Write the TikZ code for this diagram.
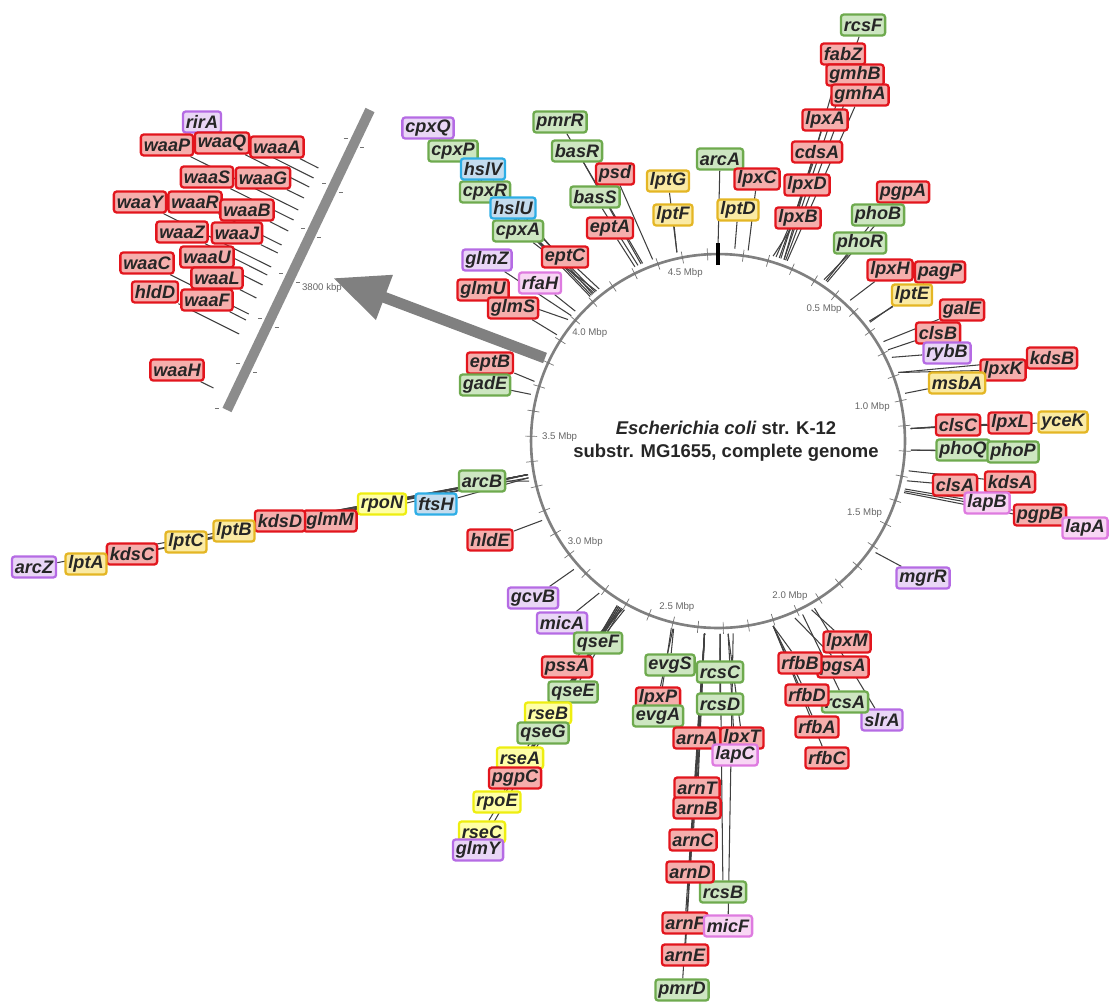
\documentclass[tikz,border=0pt]{standalone}
\usepackage{fontspec}
\setmainfont{Liberation Sans}
\usetikzlibrary{arrows.meta,backgrounds}

\definecolor{bdred}{HTML}{E2151D}
\definecolor{bgred}{HTML}{F5AEAC}
\definecolor{bdgreen}{HTML}{6EAA4E}
\definecolor{bggreen}{HTML}{CDE6C1}
\definecolor{bdpurple}{HTML}{B56BE4}
\definecolor{bgpurple}{HTML}{E9D6F6}
\definecolor{bdlpt}{HTML}{E4B624}
\definecolor{bglpt}{HTML}{FAEAA4}
\definecolor{bdsigma}{HTML}{EEEE10}
\definecolor{bgsigma}{HTML}{FFFFA6}
\definecolor{bdcyan}{HTML}{2EAEE6}
\definecolor{bgcyan}{HTML}{C4DCEE}
\definecolor{bdpink}{HTML}{DE7BE0}
\definecolor{bgpink}{HTML}{F8D6F4}

\tikzset{
  gene/.style={draw, rounded corners=1.6pt, line width=1.3pt, inner xsep=1.7pt,
    inner ysep=0.6pt, minimum height=0.42cm, text=black!85,
    font=\bfseries\itshape\fontsize{10.3}{12}\selectfont},
  redgene/.style={gene, draw=bdred, fill=bgred},
  greengene/.style={gene, draw=bdgreen, fill=bggreen},
  purplegene/.style={gene, draw=bdpurple, fill=bgpurple},
  lptgene/.style={gene, draw=bdlpt, fill=bglpt},
  sigmagene/.style={gene, draw=bdsigma, fill=bgsigma},
  cyangene/.style={gene, draw=bdcyan, fill=bgcyan},
  pinkgene/.style={gene, draw=bdpink, fill=bgpink},
  genelink/.style={draw=black!75, line width=0.6pt},
  ring/.style={draw=black!50, line width=1.5pt},
  ringtick/.style={draw=black!55, line width=0.4pt},
  mbp/.style={font=\fontsize{5.5}{6}\selectfont, text=black!60, inner sep=1pt},
  zoombar/.style={draw=black!45, line width=0.2cm},
  bigarrow/.style={draw=black!50, line width=0.22cm, -{Triangle[length=1.1cm,width=0.9cm]}},
  title/.style={font=\bfseries\fontsize{10.5}{13}\selectfont, align=center, text=black!85}
}

\begin{document}
\begin{tikzpicture}[x=0.02cm, y=-0.02cm]
  \useasboundingbox (0,0) rectangle (1114,1005);

  % genome ring
  \coordinate (ctr) at (718,441);
  \draw[ring] (ctr) circle[radius=3.74cm];
  \foreach \m in {0,1,...,46} {
    \draw[ringtick] (ctr) ++({-90+7.756*\m}:181) -- ++({-90+7.756*\m}:12);
  }
  \draw[line width=2pt] (ctr) ++(-90:176) -- ++(-90:22);
  \foreach \m/\t in {1/0.5, 2/1.0, 3/1.5, 4/2.0, 5/2.5, 6/3.0, 7/3.5, 8/4.0, 9/4.5} {
    \pgfmathsetmacro\ang{-90+38.78*\m}
    \pgfmathtruncatemacro\anc{mod(810-38.78*\m,360)}
    \path (ctr) ++(\ang:178) node[mbp, anchor=\anc] (mb\m) {\t~Mbp};
  }
  \node[title] (name) at (726,441) {\textit{Escherichia coli} str. K-12\\substr. MG1655, complete genome};

  % genes round the ring
  \foreach \g/\x/\y/\a/\s in {
      cpxQ/428/128/-131.5/purplegene, cpxP/453/151/-131/greengene,
      cpxR/485/192/-130/greengene, hslV/483/169/-130.5/cyangene,
      cpxA/518/231/-129/greengene, hslU/513/208/-129.5/cyangene,
      eptC/565/257/-128/redgene, glmZ/487/260/-139.5/purplegene,
      rfaH/540/283/-137.7/pinkgene, glmU/483/290/-141/redgene,
      glmS/513/308/-146.6/redgene, eptB/490/363/-162/redgene,
      gadE/485/385/-166/greengene,
      pmrR/560/122/-113/greengene, basR/577/151/-113.5/greengene,
      psd/615/174/-109.8/redgene, basS/595/197/-114.5/greengene,
      eptA/610/228/-115.5/redgene, lptG/668/181/-102.3/lptgene,
      lptF/673/215/-102.3/lptgene, arcA/720/159/-90/greengene,
      lpxC/757/179/-81/redgene, lptD/738/210/-85/lptgene,
      rcsF/863/25/-70/greengene, fabZ/843/54/-70/redgene,
      gmhB/855/75/-69.5/redgene, gmhA/860/95/-69/redgene,
      lpxA/825/120/-71/redgene, cdsA/817/152/-71.5/redgene,
      lpxD/807/185/-72.5/redgene, lpxB/798/218/-73.4/redgene,
      pgpA/903/192/-55.5/redgene, phoB/878/215/-56/greengene,
      phoR/860/243/-56.7/greengene, lpxH/890/270/-46.8/redgene,
      pagP/940/272/-38/redgene, lptE/912/295/-38.4/lptgene,
      galE/962/310/-31/redgene, clsB/938/333/-28.2/redgene,
      rybB/947/353/-25.7/purplegene, kdsB/1052/358/-20.8/redgene,
      lpxK/1003/370/-20.8/redgene, msbA/957/383/-14.3/lptgene,
      clsC/958/425/-3.7/redgene, lpxL/1010/423/-3.7/redgene,
      yceK/1063/422/-3.7/lptgene, phoQ/963/450/2.7/greengene,
      phoP/1013/452/2.7/greengene, kdsA/1010/482/8.9/redgene,
      clsA/955/485/11.9/redgene, lapB/987/503/14.4/pinkgene,
      pgpB/1040/515/15/redgene, lapA/1085/528/15.5/pinkgene,
      mgrR/923/578/35.3/purplegene,
      lpxM/847/642/61/redgene, slrA/882/720/60/purplegene,
      pgsA/843/667/66.5/redgene, rcsA/845/702/64/greengene,
      rfbB/800/663/73.4/redgene, rfbD/807/695/73.4/redgene,
      rfbA/817/727/73.4/redgene, rfbC/827/758/73.4/redgene,
      evgS/670/665/103.3/greengene, lpxP/658/698/103.5/redgene,
      evgA/658/716/104/greengene, rcsC/720/672/89.4/greengene,
      rcsD/720/704/89.4/greengene, rcsB/723/892/89.4/greengene,
      arnA/697/738/94/redgene, lpxT/742/738/87/redgene,
      lapC/735/755/87/pinkgene, arnT/697/788/94/redgene,
      arnB/697/808/94/redgene, arnC/693/840/94/redgene,
      arnD/690/872/94/redgene, arnF/685/923/94/redgene,
      micF/728/926/85.5/pinkgene, arnE/685/955/94/redgene,
      pmrD/682/990/94/greengene,
      gcvB/533/598/138.3/purplegene, micA/562/623/128/purplegene,
      qseF/598/643/119/greengene, pssA/567/667/119.5/redgene,
      qseE/573/692/120/greengene, rseB/548/713/120/sigmagene,
      qseG/543/733/120.5/greengene, rseA/520/758/120.5/sigmagene,
      pgpC/515/778/121/redgene, rpoE/497/802/121/sigmagene,
      rseC/482/832/121.5/sigmagene, glmY/478/850/121.5/purplegene,
      hldE/490/540/155.7/redgene, arcB/482/481/168/greengene,
      ftsH/436/504/169/cyangene, rpoN/382/504/169/sigmagene,
      glmM/330/521/170/redgene, kdsD/280/521/170/redgene,
      lptB/234/531/170/lptgene, lptC/186/542/170/lptgene,
      kdsC/132/554/170/redgene, lptA/86/564/170/lptgene,
      arcZ/34/567/170/purplegene} {
    \node[\s] (\g) at (\x,\y) {\g};
    \path (ctr) ++(\a:193) coordinate (p-\g);
    \begin{scope}[on background layer]
      \draw[genelink] (p-\g) -- (\g);
    \end{scope}
  }

  % zoomed part near 3800 kbp
  \coordinate (bartop) at (370,110);
  \coordinate (barbot) at (227,410);
  \draw[zoombar] (bartop) -- (barbot);
  \foreach \yy in {138,183,...,408} {
    \draw[ringtick] ({357-0.4767*(\yy-110)},\yy) -- ++(4,0);
  }
  \foreach \yy in {147,192,...,372} {
    \draw[ringtick] ({378-0.4767*(\yy-110)},\yy) -- ++(4,0);
  }
  \node[mbp] (kbp) at (322,288) {3800 kbp};
  \foreach \g/\x/\y/\ex/\ey/\s in {
      rirA/202/122/313.6/178/purplegene, waaP/167/145/298.3/210/redgene,
      waaQ/222/143/309.3/187/redgene, waaA/277/147/318.4/168/redgene,
      waaS/207/177/293.6/220/redgene, waaG/263/178/304/198/redgene,
      waaY/140/202/271.2/267/redgene, waaR/195/202/281.6/245/redgene,
      waaB/247/210/288.3/231/redgene, waaZ/182/232/267.3/275/redgene,
      waaJ/237/233/277.8/253/redgene, waaC/147/263/248.8/314/redgene,
      waaU/207/257/262.6/285/redgene, waaL/217/278/256.4/298/redgene,
      hldD/155/292/239.2/334/redgene, waaF/207/300/245.9/320/redgene,
      waaH/177/370/213.5/388/redgene} {
    \node[\s] (\g) at (\x,\y) {\g};
    \coordinate (e-\g) at (\ex,\ey);
    \begin{scope}[on background layer]
      \draw[genelink] (\g) -- (e-\g);
    \end{scope}
  }

  \coordinate (arrtail) at (545,358);
  \coordinate (arrtip) at (333,278);
  \draw[bigarrow] (arrtail) -- (arrtip);
\end{tikzpicture}
\end{document}
